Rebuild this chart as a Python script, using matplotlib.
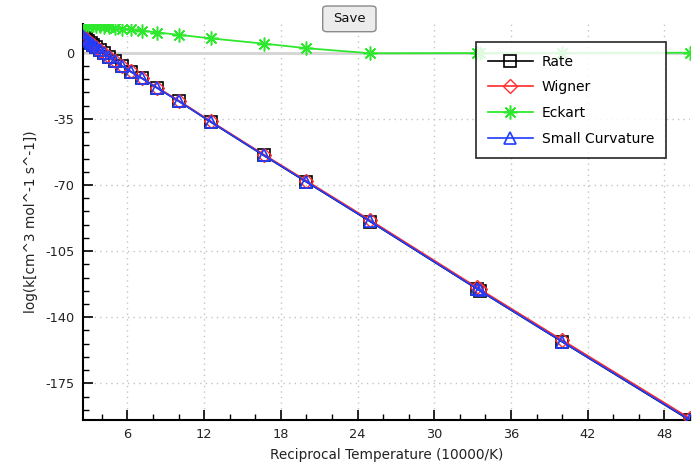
import matplotlib
matplotlib.use("Agg")
import matplotlib.pyplot as plt
from matplotlib.patches import FancyBboxPatch
from matplotlib.ticker import MultipleLocator

plt.rcParams['font.family'] = ['DejaVu Sans']
plt.rcParams['axes.unicode_minus'] = False

recip_temp = [2.5, 2.632, 2.778, 2.941, 3.125, 3.333, 3.571, 3.846, 4.167, 4.545,
              5.0, 5.556, 6.25, 7.143, 8.333, 10.0, 12.5, 16.667, 20.0, 25.0,
              33.333, 33.54, 40.0, 50.0]
rate = [8.6, 7.9, 7.1, 6.2, 5.2, 4.1, 2.8, 1.4, -0.3, -2.2,
        -4.4, -7.0, -10.0, -13.6, -18.7, -25.6, -36.6, -54.4, -68.4, -89.4,
        -125.0, -125.9, -153.0, -194.6]
wigner = [8.7, 8.0, 7.2, 6.3, 5.3, 4.2, 2.9, 1.5, -0.2, -2.1,
          -4.3, -6.9, -9.8, -13.4, -18.5, -25.3, -36.2, -53.9, -67.8, -88.7,
          -124.2, -125.1, -152.1, -193.6]
eckart = [15.2, 15.1, 15.0, 14.8, 14.7, 14.5, 14.3, 14.1, 13.8, 13.5,
          13.2, 12.8, 12.3, 11.7, 10.7, 9.5, 7.6, 4.8, 2.4, -0.3,
          -0.2, -0.2, -0.1, 0.0]
small_curv = [8.6, 7.9, 7.1, 6.2, 5.2, 4.1, 2.8, 1.4, -0.3, -2.2,
              -4.4, -7.0, -10.0, -13.6, -18.7, -25.6, -36.5, -54.3, -68.3, -89.3,
              -124.9, -125.8, -152.9, -194.4]

x_ticks = [6, 12, 18, 24, 30, 36, 42, 48]
y_ticks = [0, -35, -70, -105, -140, -175]
x_label = "Reciprocal Temperature (10000/K)"
y_label = "log(k[cm^3 mol^-1 s^-1])"

W, H = 692, 469
fig = plt.figure(figsize=(W / 100, H / 100), dpi=100)
fig.patch.set_facecolor('white')
ax = fig.add_axes([82.7 / W, (H - 420) / H, 607.3 / W, 396 / H])

ax.axhline(0, color='#d4d4d4', lw=2.0, zorder=1)

ax.plot(recip_temp, rate, color='black', lw=1.2, marker='s', ms=8,
        mfc='none', mec='black', mew=1.2, label='Rate', zorder=3)
ax.plot(recip_temp, wigner, color='#ff2a2a', lw=1.2, marker='D', ms=7,
        mfc='none', mec='#ff3030', mew=1.0, label='Wigner', zorder=4)
ax.plot(recip_temp, eckart, color='#2ee82e', lw=1.3, marker=(8, 2, 0), ms=10,
        mec='#2ee82e', mew=1.1, label='Eckart', zorder=4)
ax.plot(recip_temp, small_curv, color='#1f3cff', lw=1.2, marker='^', ms=8,
        mfc='none', mec='#1f3cff', mew=1.2, label='Small Curvature', zorder=5)

ax.set_xlim(2.5, 50)
ax.set_ylim(-194.4, 15.2)
ax.set_xticks(x_ticks)
ax.set_yticks(y_ticks)
ax.xaxis.set_minor_locator(MultipleLocator(2))
ax.yaxis.set_minor_locator(MultipleLocator(7))
ax.grid(True, which='major', color='#c4c4c4', ls=(0, (1, 3)), lw=1.0)
ax.set_axisbelow(True)

for s in ['top', 'right']:
    ax.spines[s].set_visible(False)
for s in ['left', 'bottom']:
    ax.spines[s].set_linewidth(1.5)
    ax.spines[s].set_color('black')

ax.tick_params(which='major', direction='in', length=7, width=1.2,
               labelsize=9.3, pad=6, colors='black')
ax.tick_params(which='minor', direction='in', length=4, width=1.0)
ax.tick_params(axis='x', labelcolor='#222222')
ax.tick_params(axis='y', labelcolor='#222222')

ax.set_xlabel(x_label, fontsize=9.8, color='#222222', labelpad=5)
ax.set_ylabel(y_label, fontsize=9.8, color='#222222', labelpad=5)

leg = ax.legend(loc='upper left', bbox_to_anchor=(0.647, 0.9545),
                fontsize=10, frameon=True, fancybox=False, framealpha=0.85,
                edgecolor='black', handlelength=3.2, handletextpad=0.65,
                labelspacing=0.85, borderpad=0.9, borderaxespad=0)
leg.get_frame().set_linewidth(1.2)
leg.get_frame().set_edgecolor((0, 0, 0, 1))
leg.set_zorder(10)

# Save button
bx0, by0, bw, bh = 322.7, 6, 53.3, 25.7
btn = FancyBboxPatch((bx0 / W, 1 - (by0 + bh) / H), bw / W, bh / H,
                     boxstyle="round,pad=0,rounding_size=0.006",
                     transform=fig.transFigure, facecolor='#ececec',
                     edgecolor='#8a8a8a', lw=1.0, zorder=20)
fig.patches.append(btn)
fig.text((bx0 + bw / 2) / W, 1 - (by0 + bh / 2) / H, "Save", ha='center',
         va='center', fontsize=9.5, color='#111111', zorder=21)

fig.savefig("out.png", dpi=100)
